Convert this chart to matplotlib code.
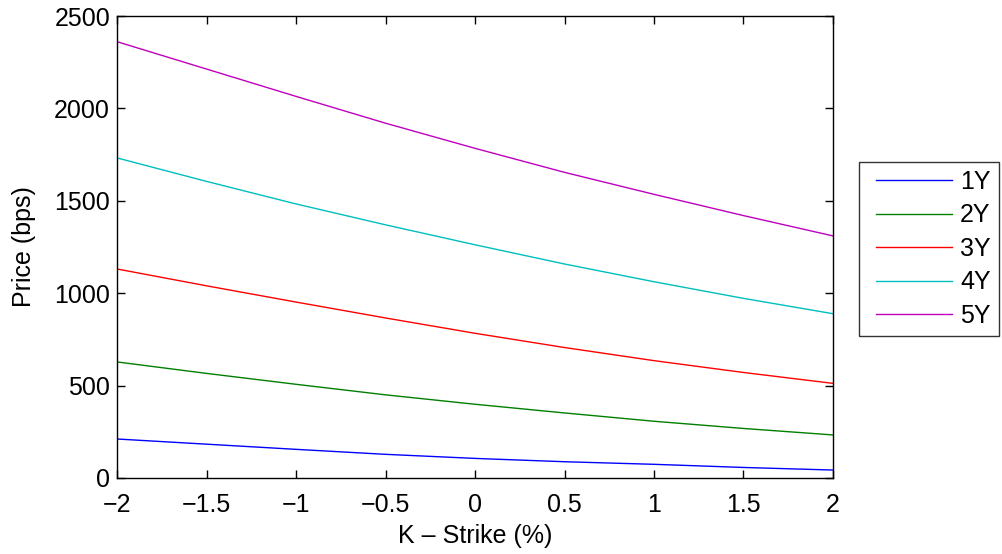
import matplotlib
matplotlib.use("Agg")
import matplotlib.pyplot as plt
from matplotlib.ticker import FuncFormatter
from matplotlib.lines import Line2D
from matplotlib.legend_handler import HandlerLine2D

plt.rcParams['font.family'] = ['Liberation Sans', 'DejaVu Sans']

strike = [-2, -1.5, -1, -0.5, 0, 0.5, 1, 1.5, 2]
price_1y = [211, 183, 155, 128, 106, 88, 74, 57, 43]
price_2y = [628, 566, 507, 450, 399, 352, 307, 268, 233]
price_3y = [1131, 1040, 952, 866, 783, 706, 635, 571, 512]
price_4y = [1732, 1605, 1483, 1370, 1262, 1158, 1062, 972, 889]
price_5y = [2361, 2213, 2065, 1920, 1784, 1654, 1535, 1420, 1310]

series = [price_1y, price_2y, price_3y, price_4y, price_5y]
labels = ["1Y", "2Y", "3Y", "4Y", "5Y"]
colors = ["#0000ff", "#008000", "#ff0000", "#00bfbf", "#bf00bf"]

fig = plt.figure(figsize=(10.03, 5.54), dpi=100)
ax = fig.add_axes([0.1167, 0.1372, 0.7138, 0.8339])

for vals, lab, c in zip(series, labels, colors):
    ax.plot(strike, vals, color=c, linewidth=1.0, label=lab)

ax.set_xlim(-2, 2)
ax.set_ylim(0, 2500)
ax.set_xticks([-2, -1.5, -1, -0.5, 0, 0.5, 1, 1.5, 2])
ax.set_yticks([0, 500, 1000, 1500, 2000, 2500])
ax.xaxis.set_major_formatter(FuncFormatter(lambda v, p: ("%g" % v).replace("-", "\u2212")))
ax.tick_params(direction='in', length=6, width=1.0, labelsize=18,
               top=True, right=True)
ax.tick_params(axis='x', pad=11)
ax.tick_params(axis='y', pad=5)
for s in ax.spines.values():
    s.set_linewidth(1.0)

ax.set_xlabel("K \u2013 Strike (%)", fontsize=18, labelpad=5)
ax.set_ylabel("Price (bps)", fontsize=18, labelpad=13)

# legend lines inset from the left edge of their handle box
leg = ax.legend(loc='upper left', bbox_to_anchor=(1.037, 0.6846), fontsize=18,
                frameon=True, fancybox=False, edgecolor='black',
                handler_map={Line2D: HandlerLine2D(numpoints=2, marker_pad=0.32)},
                handlelength=3.7, handletextpad=0.0, labelspacing=0.38,
                borderpad=0.33, borderaxespad=0)
leg.get_frame().set_linewidth(1.0)

fig.savefig("out.png", dpi=100)
